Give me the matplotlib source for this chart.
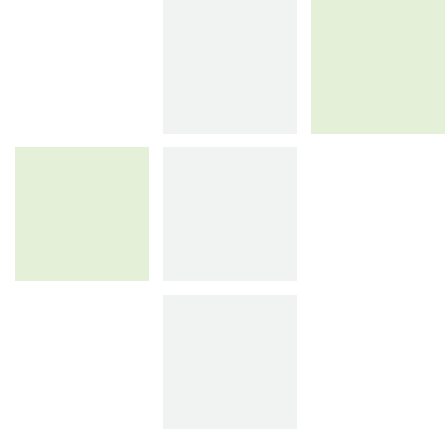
import matplotlib.pyplot as plt
from matplotlib.patches import Rectangle

# 3x3 grid of tiles: 0 = empty, 1 = grey, 2 = green
rows = [0, 0, 0, 1, 1, 1, 2, 2, 2]
cols = [0, 1, 2, 0, 1, 2, 0, 1, 2]
states = [0, 1, 2, 2, 1, 0, 0, 1, 0]

fills = {1: '#f1f3f2', 2: '#e5f0d9'}

fig = plt.figure(figsize=(4.45, 4.36), dpi=100)
ax = fig.add_axes([0, 0, 1, 1])

size = 0.908
for r, c, s in zip(rows, cols, states):
    if s == 0:
        continue
    ax.add_patch(Rectangle((c, r), size, size, facecolor=fills[s],
                           edgecolor='none', linewidth=0))

ax.set_xlim(-0.1014, 2.905)
ax.set_ylim(2.956, 0)
ax.axis('off')
fig.savefig('out.png', dpi=100, facecolor='white')
